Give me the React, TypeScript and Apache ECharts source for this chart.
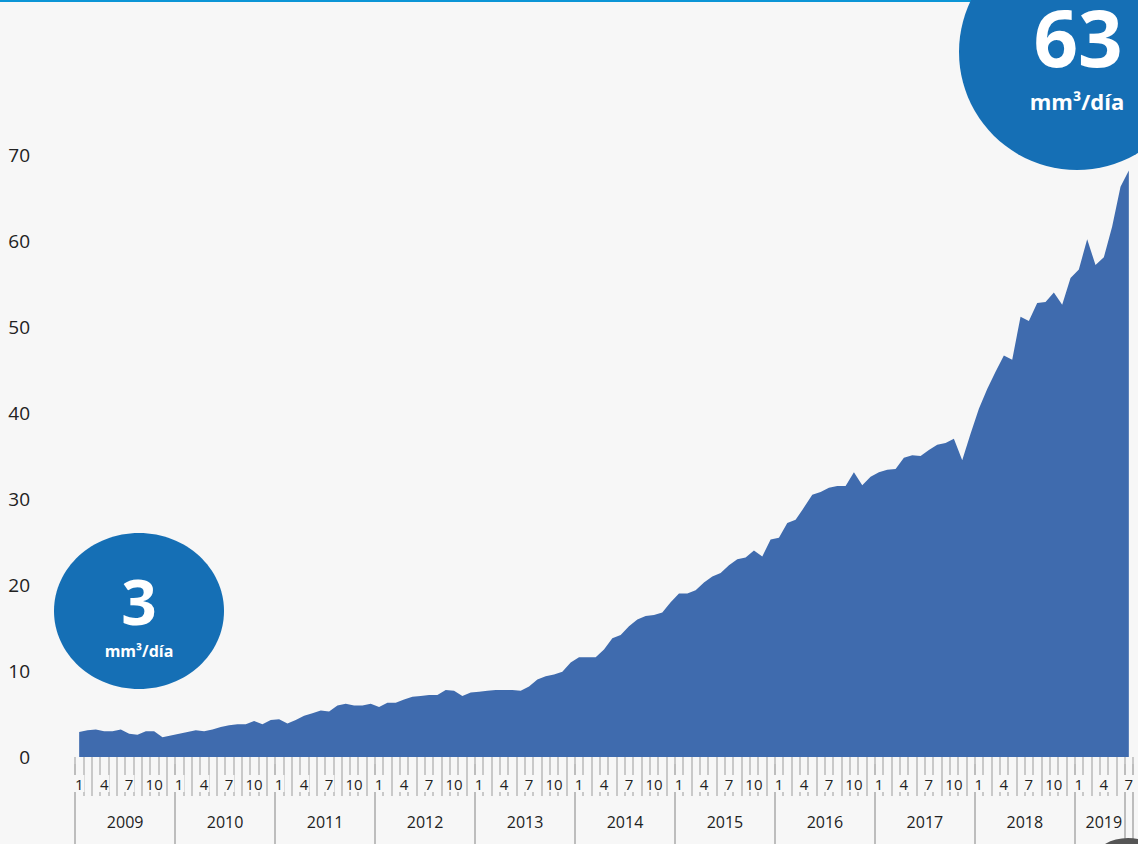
import React, { useEffect, useRef } from "react";
import * as echarts from "echarts";

const years: number[] = [2009, 2010, 2011, 2012, 2013, 2014, 2015, 2016, 2017, 2018, 2019];
const lastYearMonths = 7;
const shownMonths: number[] = [1, 4, 7, 10];
const yTicks: number[] = [0, 10, 20, 30, 40, 50, 60, 70];

// Monthly values (mm3/día), Jan 2009 .. Jul 2019
const values2009: number[] = [2.9, 3.1, 3.2, 3.0, 3.0, 3.2, 2.7, 2.6, 3.0, 3.0, 2.3, 2.5];
const values2010: number[] = [2.7, 2.9, 3.1, 3.0, 3.2, 3.5, 3.7, 3.8, 3.8, 4.2, 3.8, 4.3];
const values2011: number[] = [4.4, 3.9, 4.3, 4.8, 5.1, 5.4, 5.3, 6.0, 6.2, 6.0, 6.0, 6.2];
const values2012: number[] = [5.8, 6.3, 6.3, 6.7, 7.0, 7.1, 7.2, 7.2, 7.8, 7.7, 7.1, 7.5];
const values2013: number[] = [7.6, 7.7, 7.8, 7.8, 7.8, 7.7, 8.2, 9.0, 9.4, 9.6, 9.9, 11.0];
const values2014: number[] = [11.6, 11.6, 11.6, 12.5, 13.8, 14.2, 15.2, 16.0, 16.4, 16.5, 16.8, 18.0];
const values2015: number[] = [19.0, 19.0, 19.4, 20.3, 21.0, 21.4, 22.3, 23.0, 23.2, 24.0, 23.3, 25.3];
const values2016: number[] = [25.5, 27.2, 27.6, 29.0, 30.5, 30.8, 31.3, 31.5, 31.5, 33.1, 31.6, 32.6];
const values2017: number[] = [33.1, 33.4, 33.5, 34.8, 35.1, 35.0, 35.7, 36.3, 36.5, 37.0, 34.5, 37.6];
const values2018: number[] = [40.5, 42.8, 44.8, 46.7, 46.2, 51.2, 50.7, 52.8, 52.9, 54.0, 52.6, 55.7];
const values2019: number[] = [56.7, 60.2, 57.2, 58.1, 61.7, 66.3, 68.2];

const startValue = "3";
const endValue = "63";
const unitLabel = "mm³/día";

const FONT = "'Open Sans', 'Noto Sans', sans-serif";

export default function App() {
  const ref = useRef<HTMLDivElement>(null);

  useEffect(() => {
    if (!ref.current) return;
    const chart = echarts.init(ref.current, undefined, { renderer: "svg" });

    const values = [
      ...values2009, ...values2010, ...values2011, ...values2012, ...values2013,
      ...values2014, ...values2015, ...values2016, ...values2017, ...values2018, ...values2019,
    ];
    const categories: string[] = [];
    years.forEach((y, yi) => {
      const n = yi === years.length - 1 ? lastYearMonths : 12;
      for (let m = 1; m <= n; m++) categories.push(`${y}-${m}`);
    });
    const total = categories.length;

    const option: any = {
      animation: false,
      backgroundColor: "#f7f7f7",
      grid: { left: 75, right: 5, top: 155, bottom: 87, containLabel: false },
      xAxis: [
        {
          type: "category",
          data: categories,
          boundaryGap: true,
          position: "bottom",
          offset: 7,
          axisLine: { show: false },
          axisTick: { show: true, interval: 0, length: 39, lineStyle: { color: "#c9c9c9", width: 2 } },
          axisLabel: {
            interval: 0,
            margin: 11,
            formatter: (v: string) => {
              const m = Number(v.split("-")[1]);
              return shownMonths.includes(m) ? `{m|${m}}` : "";
            },
            rich: {
              m: {
                fontSize: 15,
                fontFamily: FONT,
                color: "#222",
                backgroundColor: "#f7f7f7",
                padding: [1, 1, 1, 1],
              },
            },
          },
          splitLine: { show: false },
        },
        {
          type: "category",
          data: categories,
          boundaryGap: true,
          position: "bottom",
          offset: 7,
          axisLine: { show: false },
          axisTick: {
            show: true,
            interval: (i: number) => i % 12 === 0 || i >= total - 1,
            length: 80,
            lineStyle: { color: "#bdbdbd", width: 2 },
          },
          axisLabel: {
            interval: 0,
            margin: 50,
            formatter: (v: string) => {
              const [y, m] = v.split("-").map(Number);
              const isLast = y === years[years.length - 1];
              if (isLast) return m === Math.ceil(lastYearMonths / 2) ? `{c|${y}}` : "";
              return m === 7 ? `{f|${y}}` : "";
            },
            rich: {
              f: { fontSize: 16, fontFamily: FONT, color: "#222", padding: [0, 8, 0, 0] },
              c: { fontSize: 16, fontFamily: FONT, color: "#222" },
            },
          },
          splitLine: { show: false },
        },
      ],
      yAxis: {
        type: "value",
        min: yTicks[0],
        max: yTicks[yTicks.length - 1],
        interval: 10,
        axisLine: { show: false },
        axisTick: { show: false },
        splitLine: { show: false },
        axisLabel: { fontSize: 19, fontFamily: FONT, color: "#222", margin: 45 },
      },
      series: [
        {
          type: "line",
          data: values,
          xAxisIndex: 0,
          symbol: "none",
          lineStyle: { width: 0 },
          areaStyle: { color: "#3f6bae", opacity: 1 },
          z: 2,
        },
      ],
      graphic: [
        { type: "rect", shape: { x: 0, y: 0, width: 1138, height: 2 }, style: { fill: "#0b95d6" }, z: 10 },
        { type: "circle", shape: { cx: 1077, cy: 52, r: 118 }, style: { fill: "#156fb5" }, z: 11 },
        {
          type: "text", x: 1078, y: 37, z: 12,
          style: { text: endValue, fill: "#fff", font: `bold 78px ${FONT}`, lineHeight: 58, align: "center", verticalAlign: "middle", textAlign: "center", textVerticalAlign: "middle" },
        },
        {
          type: "text", x: 1077, y: 101, z: 12,
          style: { text: unitLabel, fill: "#fff", font: `bold 22px ${FONT}`, lineHeight: 22, align: "center", verticalAlign: "middle", textAlign: "center", textVerticalAlign: "middle" },
        },
        { type: "ellipse", shape: { cx: 139, cy: 611, rx: 85, ry: 78 }, style: { fill: "#156fb5" }, z: 11 },
        {
          type: "text", x: 139, y: 601, z: 12,
          style: { text: startValue, fill: "#fff", font: `bold 62px ${FONT}`, lineHeight: 50, align: "center", verticalAlign: "middle", textAlign: "center", textVerticalAlign: "middle" },
        },
        {
          type: "text", x: 139, y: 651, z: 12,
          style: { text: unitLabel, fill: "#fff", font: `bold 16px ${FONT}`, lineHeight: 16, align: "center", verticalAlign: "middle", textAlign: "center", textVerticalAlign: "middle" },
        },
        { type: "circle", shape: { cx: 1128, cy: 885, r: 47 }, style: { fill: "#555" }, z: 11 },
      ],
    };

    chart.setOption(option);
    return () => chart.dispose();
  }, []);

  return (
    <div
      ref={ref}
      style={{ position: "fixed", left: 0, top: 0, width: 1138, height: 844 }}
    />
  );
}
